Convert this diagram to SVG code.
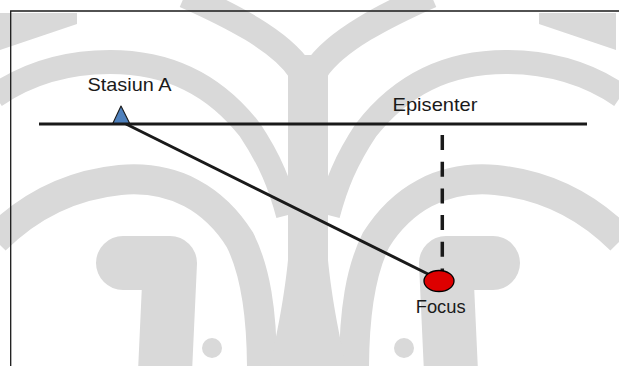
<svg xmlns="http://www.w3.org/2000/svg" width="619" height="366" viewBox="0 0 619 366">
<style>
.wm{fill:none;stroke:#d9d9d9;stroke-linejoin:round}
.wf{fill:#d9d9d9}
.lbl{font-family:"Liberation Sans",Arial,sans-serif;font-size:19px;fill:#1a1a1a}
.ln{stroke:#1a1a1a;fill:none}
</style>
<defs>
<g id="half">
<path class="wf" d="M0 13 L77 13 L77 24 L0 50 Z"/>
<path class="wm" stroke-width="26" d="M185 -5 C230 15 280 40 300 70"/>
<path class="wm" stroke-width="24" d="M-5 96 C30 72 70 62 110 62 C170 62 215 85 250 130 C270 160 280 185 288 215"/>
<path class="wm" stroke-width="30" d="M-5 240 C30 205 70 185 120 180 C175 175 215 200 240 240 C255 270 262 310 262 370"/>
<path class="wm" stroke-width="54" stroke-linecap="round" d="M123 263 L170 263 L165 372"/>
<circle class="wf" cx="212" cy="348" r="10"/>
</g>
</defs>
<g id="watermark">
<use href="#half"/>
<use href="#half" transform="translate(616,0) scale(-1,1)"/>
<rect class="wf" x="288" y="55" width="40" height="311"/>
<path class="wf" d="M270 366 C280 320 285 290 288 260 L328 260 C331 290 336 320 346 366 Z"/>
</g>
<g id="frame">
<path class="ln" stroke-width="1.3" d="M10.7 366 L10.7 11 L619 11"/>
</g>
<g id="connectors">
<line class="ln" x1="39" y1="124" x2="587" y2="124" stroke-width="2.8"/>
<line class="ln" x1="126" y1="124" x2="430" y2="275" stroke-width="3"/>
<line class="ln" x1="442.3" y1="135" x2="442.3" y2="271" stroke-width="3.5" stroke-dasharray="15 11.7"/>
</g>
<g id="stasiun-a">
<polygon points="121,106 113,123 129.5,123" fill="#4f81bd" stroke="#1a1a1a" stroke-width="1.1" stroke-linejoin="round"/>
<text class="lbl" x="87.5" y="91" textLength="84" lengthAdjust="spacingAndGlyphs">Stasiun A</text>
</g>
<g id="episenter">
<text class="lbl" x="392.5" y="110.7" textLength="85" lengthAdjust="spacingAndGlyphs">Episenter</text>
</g>
<g id="focus">
<ellipse cx="439" cy="281" rx="15" ry="10.5" fill="#dd0000" stroke="#000" stroke-width="1.3"/>
<text class="lbl" x="415.7" y="312.5" textLength="50" lengthAdjust="spacingAndGlyphs">Focus</text>
</g>
</svg>
